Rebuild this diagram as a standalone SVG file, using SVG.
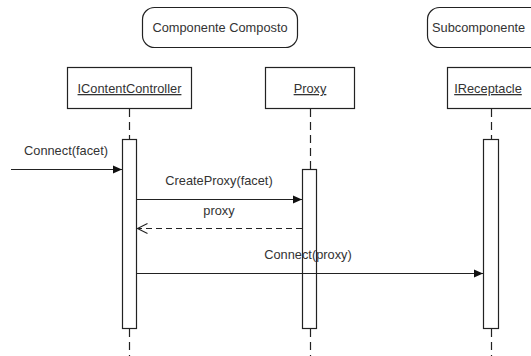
<svg xmlns="http://www.w3.org/2000/svg" width="531" height="356" viewBox="0 0 531 356">
<style>
text{font-family:"Liberation Sans",Arial,sans-serif;font-size:12.8px;fill:#333}
.box{fill:#fff;stroke:#222;stroke-width:1.2}
.act{fill:#fff;stroke:#222;stroke-width:1.2}
.life{stroke:#222;stroke-width:1.2;stroke-dasharray:8,5;fill:none}
.msg{stroke:#222;stroke-width:1.2;fill:none}
.ret{stroke:#222;stroke-width:1.2;fill:none;stroke-dasharray:6,4}
.u{text-decoration:underline}
</style>
<defs>
<marker id="fa" markerWidth="10" markerHeight="10" refX="9" refY="5" orient="auto" markerUnits="userSpaceOnUse"><path d="M0,1 L9,5 L0,9 Z" fill="#111"/></marker>
<marker id="oa" markerWidth="12" markerHeight="12" refX="10" refY="6" orient="auto" markerUnits="userSpaceOnUse"><path d="M0,1 L10,6 L0,11" fill="none" stroke="#222" stroke-width="1.1"/></marker>
</defs>
<g id="componente-composto"><rect class="box" x="142.5" y="7.5" width="155" height="40" rx="12"/><text x="220" y="32" text-anchor="middle">Componente Composto</text></g>
<g id="subcomponente"><rect class="box" x="427.5" y="7.5" width="120" height="40" rx="12"/><text x="432" y="32">Subcomponente</text></g>
<g id="lifelines">
<line class="life" x1="129.5" y1="109" x2="129.5" y2="139"/>
<line class="life" x1="129.5" y1="329" x2="129.5" y2="356"/>
<line class="life" x1="310.5" y1="109" x2="310.5" y2="169"/>
<line class="life" x1="310.5" y1="329" x2="310.5" y2="356"/>
<line class="life" x1="491.5" y1="109" x2="491.5" y2="139"/>
<line class="life" x1="491.5" y1="329" x2="491.5" y2="356"/>
</g>
<g id="icontentcontroller"><rect class="box" x="67.5" y="67.5" width="124" height="41"/><text class="u" x="129.5" y="93" text-anchor="middle">IContentController</text><rect class="act" x="122.5" y="139.5" width="14" height="189"/></g>
<g id="proxy"><rect class="box" x="265.5" y="67.5" width="89" height="41"/><text class="u" x="310" y="93" text-anchor="middle">Proxy</text><rect class="act" x="302.5" y="169.5" width="14" height="159"/></g>
<g id="ireceptacle"><rect class="box" x="447.5" y="67.5" width="89" height="41"/><text class="u" x="488" y="93" text-anchor="middle">IReceptacle</text><rect class="act" x="483.5" y="139.5" width="15" height="189"/></g>
<g id="connectors">
<line class="msg" x1="11" y1="169.5" x2="122" y2="169.5" marker-end="url(#fa)"/>
<text x="66" y="155" text-anchor="middle">Connect(facet)</text>
<line class="msg" x1="137" y1="199.5" x2="302" y2="199.5" marker-end="url(#fa)"/>
<text x="219" y="185" text-anchor="middle">CreateProxy(facet)</text>
<line class="ret" x1="302" y1="228.5" x2="137.5" y2="228.5" marker-end="url(#oa)"/>
<text x="219" y="215" text-anchor="middle">proxy</text>
<line class="msg" x1="137" y1="273.5" x2="483" y2="273.5" marker-end="url(#fa)"/>
<text x="308" y="259" text-anchor="middle">Connect(proxy)</text>
</g>
</svg>
